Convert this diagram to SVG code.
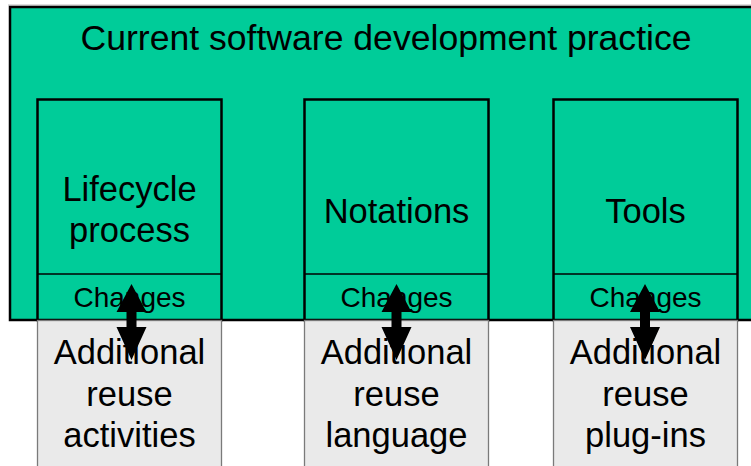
<svg xmlns="http://www.w3.org/2000/svg" width="751" height="466" viewBox="0 0 751 466">
<defs>
<style>
.outer{fill:#00CC99;stroke:#000;stroke-width:2.5}
.box{fill:#00CC99;stroke:#000;stroke-width:2.5}
.div{stroke:#000;stroke-width:1.3;fill:none}
.grey{fill:#EAEAEA;stroke:#7a7a7a;stroke-width:1.3}
.t{font-family:"Liberation Sans",Arial,sans-serif;fill:#000;text-anchor:middle}
.title{font-size:35.6px}
.big{font-size:34.5px}
.small{font-size:28px}
.arr{fill:#000;stroke:none}
</style>
</defs>
<rect x="0" y="0" width="751" height="466" fill="#fff"/>
<line x1="8" y1="5" x2="751" y2="5" stroke="#bbb" stroke-width="1"/>
<g id="practice">
<rect class="outer" x="10" y="7" width="760" height="313"/>
<text class="t title" x="386" y="50">Current software development practice</text>
</g>
<g id="lifecycle">
<rect class="box" x="37.5" y="99.5" width="184" height="220.5"/>
<line class="div" x1="37.5" y1="274" x2="221.5" y2="274"/>
<text class="t big" x="129.5" y="201">Lifecycle</text>
<text class="t big" x="129.5" y="242">process</text>
<text class="t small" x="129.5" y="307">Changes</text>
</g>
<g id="notations">
<rect class="box" x="304.5" y="99.5" width="184" height="220.5"/>
<line class="div" x1="304.5" y1="274" x2="488.5" y2="274"/>
<text class="t big" x="396.5" y="223">Notations</text>
<text class="t small" x="396.5" y="307">Changes</text>
</g>
<g id="tools">
<rect class="box" x="553.5" y="99.5" width="184" height="220.5"/>
<line class="div" x1="553.5" y1="274" x2="737.5" y2="274"/>
<text class="t big" x="645.5" y="223">Tools</text>
<text class="t small" x="645.5" y="307">Changes</text>
</g>
<g id="reuse-activities">
<rect class="grey" x="37.5" y="320.5" width="184" height="160"/>
<text class="t big" x="129.5" y="364">Additional</text>
<text class="t big" x="129.5" y="406">reuse</text>
<text class="t big" x="129.5" y="447">activities</text>
</g>
<g id="reuse-language">
<rect class="grey" x="304.5" y="320.5" width="184" height="160"/>
<text class="t big" x="396.5" y="364">Additional</text>
<text class="t big" x="396.5" y="406">reuse</text>
<text class="t big" x="396.5" y="447">language</text>
</g>
<g id="reuse-plugins">
<rect class="grey" x="553.5" y="320.5" width="184" height="160"/>
<text class="t big" x="645.5" y="364">Additional</text>
<text class="t big" x="645.5" y="406">reuse</text>
<text class="t big" x="645.5" y="447">plug-ins</text>
</g>
<g id="connectors">
<path class="arr" d="M131.5 284 L146.5 312 L136.5 312 L136.5 327 L146.5 327 L131.5 360 L116.5 327 L126.5 327 L126.5 312 L116.5 312 Z"/>
<path class="arr" d="M396.5 284 L411.5 312 L401.5 312 L401.5 327 L411.5 327 L396.5 360 L381.5 327 L391.5 327 L391.5 312 L381.5 312 Z"/>
<path class="arr" d="M645 284 L660 312 L650 312 L650 327 L660 327 L645 360 L630 327 L640 327 L640 312 L630 312 Z"/>
</g>
</svg>
